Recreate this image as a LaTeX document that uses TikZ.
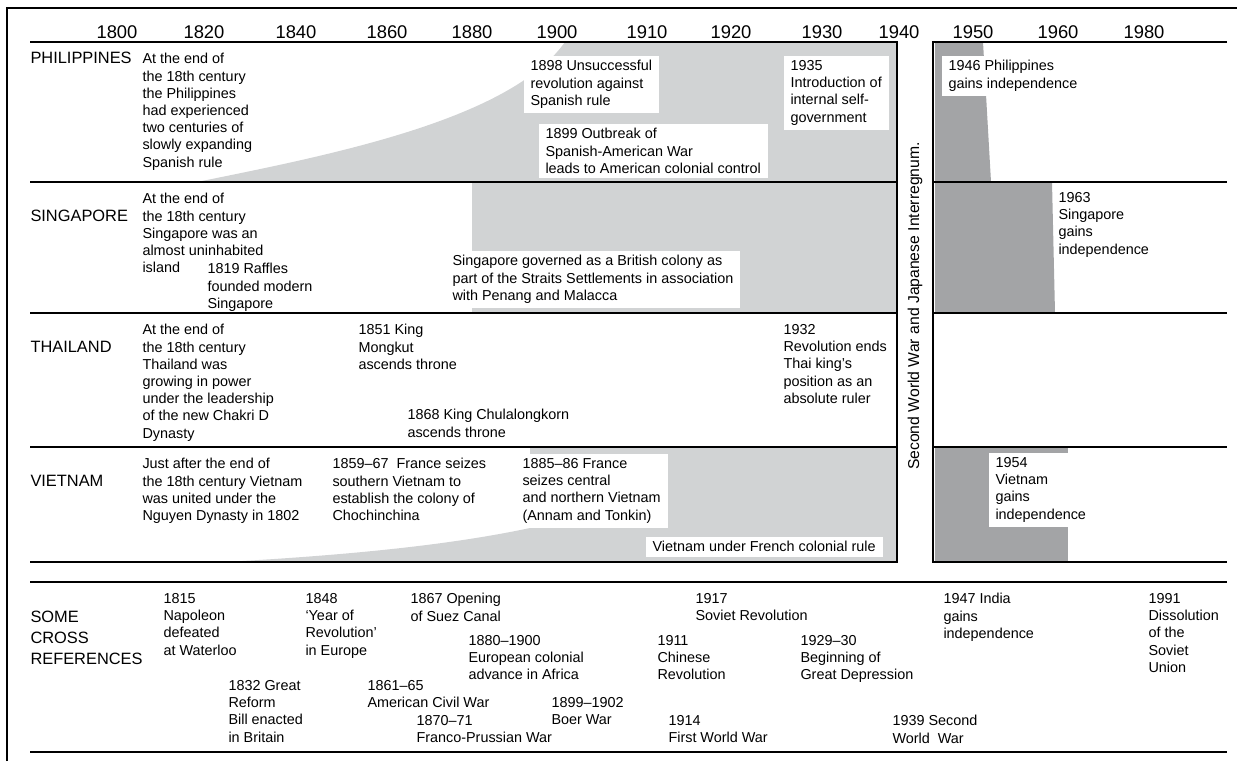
\documentclass[tikz,border=0pt]{standalone}
\usepackage{fontspec}
\setmainfont{Liberation Sans}
\definecolor{lgray}{RGB}{209,211,212}
\definecolor{dgray}{RGB}{163,164,166}
\tikzset{every picture/.style={line width=0.75pt}}
\tikzset{
  evt/.style={anchor=north west, inner sep=0pt, align=left, font=\fontsize{10.8}{12.9}\selectfont},
  evtbox/.style={evt, fill=white, inner xsep=5.25pt, inner ysep=3.75pt},
  country/.style={anchor=north west, inner sep=0pt, align=left, font=\fontsize{12.3}{15.75}\selectfont},
  yearlabel/.style={inner sep=0pt, font=\fontsize{13.8}{16}\selectfont},
  heavy/.style={line width=2.2pt},
}

\begin{document}
\begin{tikzpicture}[x=0.75pt,y=0.75pt,yscale=-1,xscale=1]
		\useasboundingbox (0,0) rectangle (1237,761);
		
		%Shape: Polygon [light shading, colonial rule]
		\fill [lgray] (197,182) .. controls (330,155) and (510,120) .. (565,42) -- (897,42) -- (897,182) -- cycle ;
		\fill [lgray] (472,182) rectangle (897,313) ;
		\fill [lgray] (225,562) .. controls (350,555) and (450,545) .. (530,528) -- (530,447) -- (897,447) -- (897,562) -- cycle ;
		%Shape: Polygon [dark shading, independence]
		\fill [dgray] (935,42) -- (983,42) -- (991,182) -- (935,182) -- cycle ;
		\fill [dgray] (935,182) -- (1052,182) -- (1055,313) -- (935,313) -- cycle ;
		\fill [dgray] (935,447) rectangle (1068,562) ;
		
		%Straight Lines [frame]
		\draw [line width=1pt] (7,761) -- (7,8) -- (1237,8) ;
		%Straight Lines [panels]
		\draw [heavy] (30,42) -- (897,42) -- (897,562) -- (30,562) ;
		\draw [heavy] (1227,42) -- (933,42) -- (933,562) -- (1227,562) ;
		\foreach \y in {182,313,447} {
			\draw [heavy] (30,\y) -- (897,\y) ;
			\draw [heavy] (933,\y) -- (1227,\y) ;
		}
		\draw [heavy] (30,582) -- (1227,582) ;
		\draw [heavy] (30,752) -- (1227,752) ;
		
		% Text Node
		\foreach \x/\yr in {117/1800,204/1820,296/1840,387/1860,472/1880,557/1900,647/1910,731/1920,822/1930,899/1940,973/1950,1058/1960,1144/1980}
			\draw (\x,32) node (yr\yr) [yearlabel] {\yr};
		% Text Node
		\draw (915,306) node (interregnum) [rotate=90, inner sep=0pt, font=\fontsize{11.8}{14}\selectfont] {Second World War and Japanese Interregnum.};
		
		% Text Node
		\draw (30,52) node (phil) [country] {PHILIPPINES};
		\draw (142,53) node (philEnd) [evt] {At the end of\\the 18th century\\the Philippines\\had experienced\\two centuries of\\slowly expanding\\Spanish rule};
		\draw (523,55) node (phil1898) [evtbox] {1898 Unsuccessful\\revolution against\\Spanish rule};
		\draw (538,123) node (phil1899) [evtbox] {1899 Outbreak of\\Spanish-American War\\leads to American colonial control};
		\draw (783,55) node (phil1935) [evtbox] {1935\\Introduction of\\internal self-\\government};
		\draw (941,55) node (phil1946) [evtbox] {1946 Philippines\\gains independence};
		
		% Text Node
		\draw (30,210) node (sing) [country] {SINGAPORE};
		\draw (142,193) node (singEnd) [evt] {At the end of\\the 18th century\\Singapore was an\\almost uninhabited\\island};
		\draw (207,263) node (sing1819) [evt] {1819 Raffles\\founded modern\\Singapore};
		\draw (445,250) node (singColony) [evtbox] {Singapore governed as a British colony as\\part of the Straits Settlements in association\\with Penang and Malacca};
		\draw (1058,192) node (sing1963) [evt] {1963\\Singapore\\gains\\independence};
		
		% Text Node
		\draw (30,341) node (thai) [country] {THAILAND};
		\draw (142,324) node (thaiEnd) [evt] {At the end of\\the 18th century\\Thailand was\\growing in power\\under the leadership\\of the new Chakri D\\Dynasty};
		\draw (358,324) node (thai1851) [evt] {1851 King\\Mongkut\\ascends throne};
		\draw (407,409) node (thai1868) [evt] {1868 King Chulalongkorn\\ascends throne};
		\draw (783,324) node (thai1932) [evt] {1932\\Revolution ends\\Thai king's\\position as an\\absolute ruler};
		
		% Text Node
		\draw (30,475) node (viet) [country] {VIETNAM};
		\draw (142,458) node (vietStart) [evt] {Just after the end of\\the 18th century Vietnam\\was united under the\\Nguyen Dynasty in 1802};
		\draw (332,458) node (viet1859) [evt] {1859--67 \ France seizes\\southern Vietnam to\\establish the colony of\\Chochinchina};
		\draw (515,453) node (viet1885) [evtbox] {1885--86 France\\seizes central\\and northern Vietnam\\(Annam and Tonkin)};
		\draw (645,536) node (vietFrench) [evtbox] {Vietnam under French colonial rule};
		\draw (988,452) node (viet1954) [evtbox] {1954\\Vietnam\\gains\\independence};
		
		% Text Node
		\draw (30,611) node (cross) [country] {SOME\\CROSS\\REFERENCES};
		\draw (163,593) node (x1815) [evt] {1815\\Napoleon\\defeated\\at Waterloo};
		\draw (305,593) node (x1848) [evt] {1848\\`Year of\\Revolution'\\in Europe};
		\draw (410,593) node (x1867) [evt] {1867 Opening\\of Suez Canal};
		\draw (468,635) node (x1880) [evt] {1880--1900\\European colonial\\advance in Africa};
		\draw (228,680) node (x1832) [evt] {1832 Great\\Reform\\Bill enacted\\in Britain};
		\draw (367,680) node (x1861) [evt] {1861--65\\American Civil War};
		\draw (416,715) node (x1870) [evt] {1870--71\\Franco-Prussian War};
		\draw (551,697) node (x1899) [evt] {1899--1902\\Boer War};
		\draw (695,593) node (x1917) [evt] {1917\\Soviet Revolution};
		\draw (657,635) node (x1911) [evt] {1911\\Chinese\\Revolution};
		\draw (800,635) node (x1929) [evt] {1929--30\\Beginning of\\Great Depression};
		\draw (668,715) node (x1914) [evt] {1914\\First World War};
		\draw (892,715) node (x1939) [evt] {1939 Second\\World \ War};
		\draw (943,593) node (x1947) [evt] {1947 India\\gains\\independence};
		\draw (1148,593) node (x1991) [evt] {1991\\Dissolution\\of the\\Soviet\\Union};
		
	\end{tikzpicture}
\end{document}
